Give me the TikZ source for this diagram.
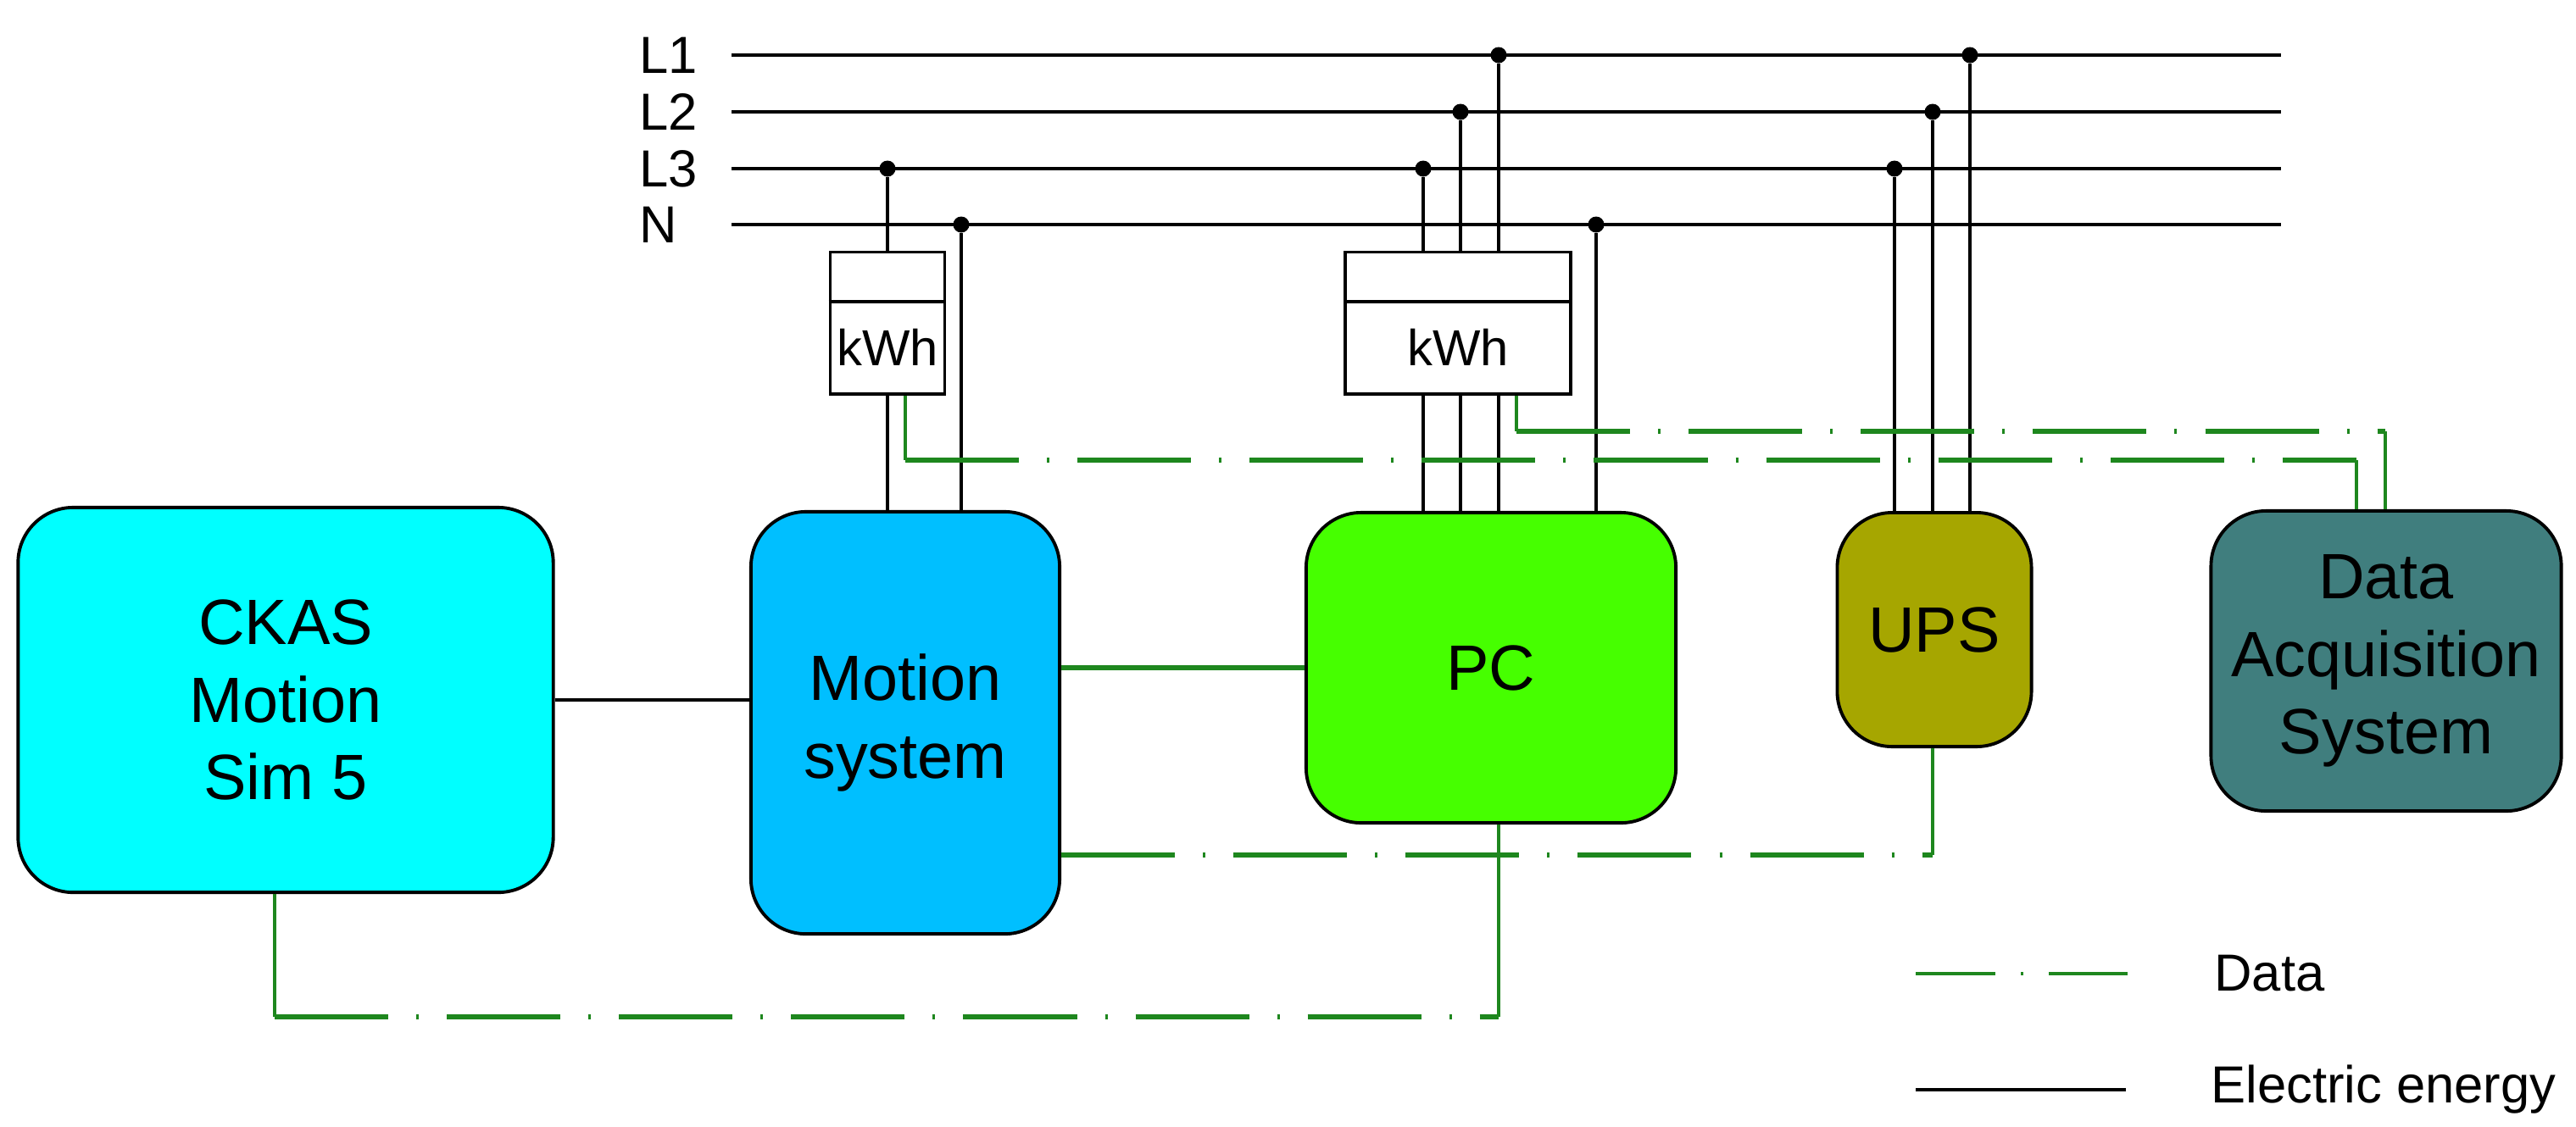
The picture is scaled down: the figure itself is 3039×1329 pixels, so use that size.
\documentclass[tikz,border=0pt]{standalone}
\usepackage{fontspec}
\setmainfont{Liberation Sans}
\definecolor{ckascol}{RGB}{0,255,255}
\definecolor{motioncol}{RGB}{0,191,255}
\definecolor{pccol}{RGB}{70,255,0}
\definecolor{upscol}{RGB}{166,166,0}
\definecolor{dascol}{RGB}{64,126,126}
\definecolor{datacol}{RGB}{30,135,30}
\begin{document}
\begin{tikzpicture}[x=0.01cm,y=-0.01cm,
    unit/.style={draw=black,line width=1.1pt,rounded corners=0.65cm,align=center,font=\fontsize{21.5}{26}\selectfont},
    meter/.style={draw=black,line width=1.1pt,minimum height=1.67cm,inner sep=0pt},
    bus/.style={line width=1.1pt},
    power/.style={line width=0.9pt},
    tap/.style={circle,fill=black,inner sep=0pt,minimum size=0.19cm},
    data/.style={datacol,line width=1.6pt,dash pattern=on 1.34cm off 0.33cm on 0.03cm off 0.33cm},
    datav/.style={datacol,line width=1pt},
    lbl/.style={font=\fontsize{17.5}{21}\selectfont}]
  \useasboundingbox (0,0) rectangle (3039,1329);
  \node[unit,fill=ckascol,minimum width=6.31cm,minimum height=4.54cm] (ckas) at (337,826) {CKAS\\Motion\\Sim 5};
  \node[unit,fill=motioncol,minimum width=3.64cm,minimum height=4.98cm] (motion) at (1068,853) {Motion\\system};
  \node[unit,fill=pccol,minimum width=4.36cm,minimum height=3.66cm] (pc) at (1759,788) {PC};
  \node[unit,fill=upscol,minimum width=2.29cm,minimum height=2.76cm] (ups) at (2282,743) {UPS};
  \node[unit,fill=dascol,minimum width=4.13cm,minimum height=3.54cm] (das) at (2815,780) {Data\\Acquisition\\System};
  \node[meter,minimum width=1.35cm] (meterA) at (1047,381) {};
  \node[meter,minimum width=2.66cm] (meterB) at (1720,381) {};
  \draw[line width=1.1pt] (meterA.west |- 0,356) -- (meterA.east |- 0,356);
  \draw[line width=1.1pt] (meterB.west |- 0,356) -- (meterB.east |- 0,356);
  \node[lbl,font=\fontsize{17}{20}\selectfont] (kwhA) at (1047,410) {kWh};
  \node[lbl,font=\fontsize{17}{20}\selectfont] (kwhB) at (1720,410) {kWh};
  \foreach \n/\y in {L1/65,L2/132,L3/199,N/265}{
    \node[lbl,anchor=west] (\n) at (742,\y) {\n};
    \coordinate (\n-a) at (863,\y);
    \coordinate (\n-b) at (2691,\y);
    \draw[bus] (\n-a) -- (\n-b);
  }
  \node[tap] (tA3) at (1047,199) {};
  \node[tap] (tAN) at (1134,265) {};
  \node[tap] (tB3) at (1679,199) {};
  \node[tap] (tB2) at (1723,132) {};
  \node[tap] (tB1) at (1768,65) {};
  \node[tap] (tBN) at (1883,265) {};
  \node[tap] (tC3) at (2235,199) {};
  \node[tap] (tC2) at (2280,132) {};
  \node[tap] (tC1) at (2324,65) {};
  \draw[power] (tA3) -- (meterA.north);
  \draw[power] (meterA.south) -- (motion.north -| meterA.south);
  \draw[power] (tAN) -- (motion.north -| tAN);
  \foreach \t in {tB3,tB2,tB1}{
    \draw[power] (\t) -- (meterB.north -| \t);
    \draw[power] (meterB.south -| \t) -- (pc.north -| \t);
  }
  \draw[power] (tBN) -- (pc.north -| tBN);
  \foreach \t in {tC3,tC2,tC1}
    \draw[power] (\t) -- (ups.north -| \t);
  \draw[line width=1.2pt] (ckas.east) -- (ckas.east -| motion.west);
  \draw[datacol,line width=1.5pt] (pc.west -| motion.east) -- (pc.west);
  \coordinate (dA1) at (1068,543);
  \coordinate (dA2) at (2780,543);
  \draw[datav] (meterA.south -| dA1) -- (dA1);
  \draw[data] (dA1) -- (dA2);
  \draw[datav] (dA2) -- (das.north -| dA2);
  \coordinate (dB1) at (1789,509);
  \coordinate (dB2) at (2814,509);
  \draw[datav] (meterB.south -| dB1) -- (dB1);
  \draw[data] (dB1) -- (dB2);
  \draw[datav] (dB2) -- (das.north -| dB2);
  \coordinate (dU) at (2280,1009);
  \draw[datav] (ups.south -| dU) -- (dU);
  \draw[data] (dU -| motion.east) -- (dU);
  \coordinate (dC1) at (324,1200);
  \coordinate (dC2) at (1768,1200);
  \draw[datav] (ckas.south -| dC1) -- (dC1);
  \draw[data] (dC1) -- (dC2);
  \draw[datav] (dC2) -- (pc.south -| dC2);
  \coordinate (lgA1) at (2260,1149);
  \coordinate (lgA2) at (2510,1149);
  \coordinate (lgB1) at (2260,1286);
  \coordinate (lgB2) at (2508,1286);
  \draw[datacol,line width=1.3pt,dash pattern=on 0.94cm off 0.3cm on 0.03cm off 0.3cm] (lgA1) -- (lgA2);
  \draw[line width=1.3pt] (lgB1) -- (lgB2);
  \node[lbl,anchor=west] (lgdata) at (2600,1149) {Data};
  \node[lbl,anchor=west] (lgpower) at (2596,1286) {Electric energy};
\end{tikzpicture}
\end{document}
